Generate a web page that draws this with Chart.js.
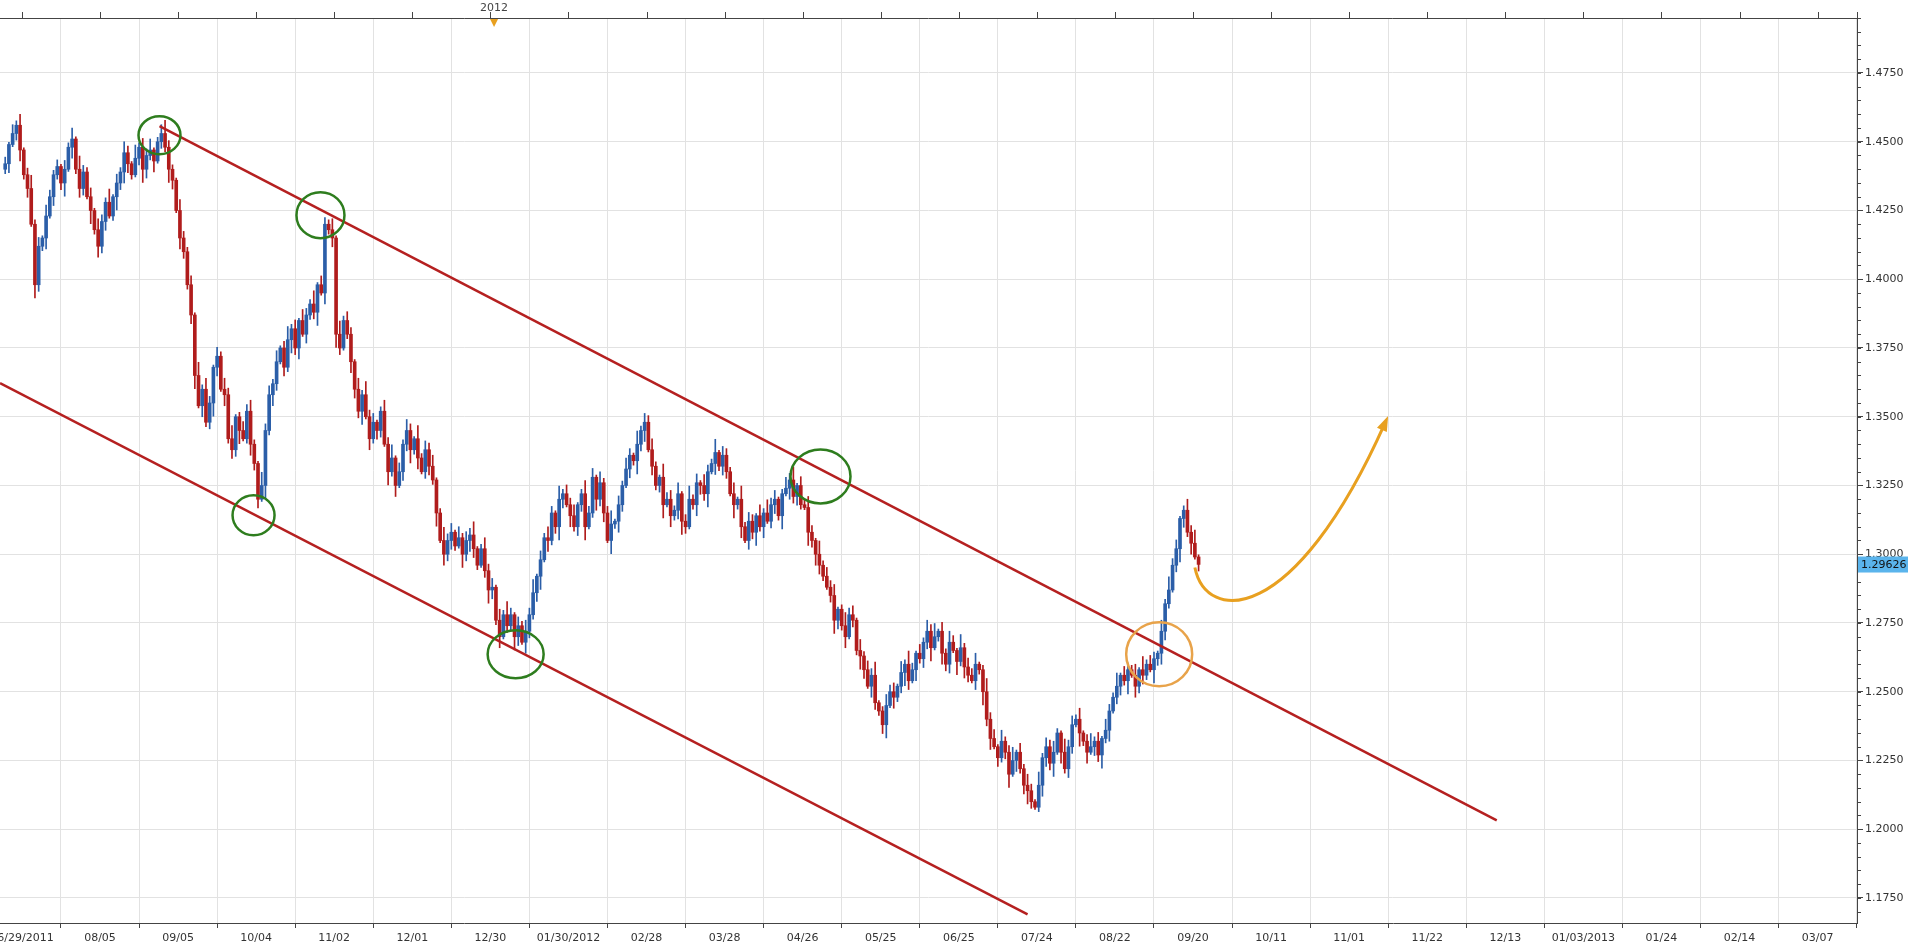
<!DOCTYPE html>
<html><head><meta charset="utf-8">
<script src="https://cdn.jsdelivr.net/npm/chart.js@4/dist/chart.umd.min.js"></script>
<style>html,body{margin:0;padding:0;background:#fff;overflow:hidden}canvas{display:block}</style>
</head><body><canvas id="c" width="1914" height="950"></canvas>
<script>
// ---- DATA ----
const firstIndex = -4.5;         // trading-day index of first candle (0 = 06/29/2011)
const firstOpen = 1.4400;
const closes = [
1.4420,1.4490,1.4530,1.4560,1.4470,1.4380,1.4330,1.4200,1.3980,1.4120,
1.4150,1.4230,1.4300,1.4380,1.4410,1.4350,1.4400,1.4480,1.4510,1.4400,
1.4330,1.4390,1.4300,1.4250,1.4180,1.4120,1.4210,1.4280,1.4230,1.4300,
1.4350,1.4390,1.4460,1.4420,1.4380,1.4440,1.4480,1.4400,1.4450,1.4470,
1.4430,1.4500,1.4530,1.4480,1.4400,1.4360,1.4250,1.4150,1.4100,1.3980,
1.3870,1.3650,1.3540,1.3600,1.3480,1.3550,1.3680,1.3720,1.3600,1.3580,
1.3420,1.3380,1.3500,1.3450,1.3420,1.3520,1.3400,1.3330,1.3200,1.3250,
1.3450,1.3580,1.3620,1.3700,1.3750,1.3680,1.3780,1.3820,1.3750,1.3850,
1.3800,1.3870,1.3910,1.3880,1.3980,1.3950,1.4200,1.4180,1.4150,1.3800,
1.3750,1.3850,1.3800,1.3700,1.3600,1.3520,1.3580,1.3500,1.3420,1.3480,
1.3450,1.3520,1.3400,1.3300,1.3350,1.3250,1.3300,1.3400,1.3450,1.3380,
1.3420,1.3350,1.3300,1.3380,1.3320,1.3270,1.3150,1.3050,1.3000,1.3050,
1.3080,1.3030,1.3060,1.3000,1.3050,1.3070,1.3020,1.2960,1.3020,1.2940,
1.2870,1.2880,1.2760,1.2700,1.2780,1.2740,1.2780,1.2700,1.2740,1.2680,
1.2720,1.2780,1.2860,1.2920,1.2980,1.3060,1.3050,1.3150,1.3100,1.3200,
1.3220,1.3180,1.3140,1.3100,1.3180,1.3220,1.3100,1.3150,1.3280,1.3200,
1.3260,1.3150,1.3050,1.3110,1.3120,1.3180,1.3250,1.3310,1.3360,1.3340,
1.3400,1.3450,1.3480,1.3380,1.3320,1.3250,1.3280,1.3180,1.3200,1.3140,
1.3160,1.3220,1.3120,1.3100,1.3200,1.3180,1.3260,1.3250,1.3220,1.3300,
1.3330,1.3370,1.3320,1.3360,1.3300,1.3220,1.3180,1.3200,1.3100,1.3050,
1.3120,1.3080,1.3140,1.3100,1.3150,1.3120,1.3180,1.3200,1.3140,1.3220,
1.3240,1.3270,1.3210,1.3250,1.3180,1.3170,1.3080,1.3050,1.3000,1.2960,
1.2920,1.2880,1.2850,1.2760,1.2800,1.2740,1.2700,1.2780,1.2760,1.2650,
1.2630,1.2580,1.2520,1.2560,1.2460,1.2430,1.2380,1.2450,1.2500,1.2480,
1.2520,1.2570,1.2600,1.2540,1.2580,1.2640,1.2620,1.2680,1.2720,1.2660,
1.2700,1.2720,1.2640,1.2600,1.2680,1.2650,1.2610,1.2660,1.2590,1.2560,
1.2540,1.2600,1.2580,1.2500,1.2400,1.2330,1.2300,1.2260,1.2320,1.2280,
1.2200,1.2250,1.2280,1.2220,1.2160,1.2140,1.2100,1.2080,1.2160,1.2260,
1.2300,1.2240,1.2280,1.2350,1.2280,1.2220,1.2300,1.2380,1.2400,1.2350,
1.2320,1.2280,1.2300,1.2320,1.2270,1.2330,1.2360,1.2430,1.2480,1.2520,
1.2560,1.2540,1.2580,1.2560,1.2520,1.2580,1.2560,1.2600,1.2580,1.2620,
1.2640,1.2720,1.2820,1.2870,1.2960,1.3020,1.3130,1.3160,1.3080,1.3040,
1.2990,1.2963];
// wick lengths above / below the body, in units of 0.0008
const wickUp = "3142513624153231425163241532614253162435124632153241625314253612435216342513624153261432516243152634125361425316243512634152436125341526314253614253162435126341523614253162435216342513624153261432516243152634125361425316243512634152436125341526314253614253162435126341523614253162435216342513624153261432516243152634125361425316".split("").map(Number);
const wickDn = "2413524163251423615243162534126354213642513264153246152364152436125341625314263514236152463125436152431625143625134261534216354213642513264153246152364152436125341625314263514236152463125436152431625143625134261534216354213642513264153246152364152436125341625314263514236152463125436152431625143625134261534216354213642513264153".split("").map(Number);
const xTickLabels = ["06/29/2011","08/05","09/05","10/04","11/02","12/01","12/30","01/30/2012","02/28","03/28","04/26","05/25","06/25","07/24","08/22","09/20","10/11","11/01","11/22","12/13","01/03/2013","01/24","02/14","03/07"];
const xTickStep = 21;
const yTicks = [1.175,1.2,1.225,1.25,1.275,1.3,1.325,1.35,1.375,1.4,1.425,1.45,1.475];
const yMinorStep = 0.005;
const lastPrice = 1.29626;
const yearMarks = [{i:127, label:"2012"}];
const upperChannel = [{x:37,y:1.4557},{x:396.7,y:1.2032}];
const lowerChannel = [{x:-5.9,y:1.3622},{x:270.5,y:1.1690}];
const greenCircles = [{x:37,y:1.4524,rx:21,ry:19},{x:80.3,y:1.4233,rx:24,ry:23},{x:62.3,y:1.3142,rx:21,ry:20},{x:132.8,y:1.2636,rx:28,ry:24},{x:214.8,y:1.3283,rx:30,ry:27}];
const orangeCircles = [{x:305.9,y:1.2636,rx:33,ry:32}];
const arrowPath = [{x:315.5,y:1.2952},{x:318.5,y:1.2750},{x:342,y:1.2730},{x:366.6,y:1.3476}];

// ---- build ----
const UP='#2b5ea8', DN='#b01c1c';
const wicks=[], bodies=[], colors=[];
let prev=firstOpen;
closes.forEach((c,k)=>{
  const o=prev, x=firstIndex+k;
  const hi=Math.max(o,c)+(wickUp[k]||1)*0.0008, lo=Math.min(o,c)-(wickDn[k]||1)*0.0008;
  wicks.push({x, y:[lo,hi]});
  bodies.push({x, y:[Math.min(o,c), Math.max(o,c)+ (Math.abs(o-c)<0.0004?0.0004:0)]});
  colors.push(c>=o?UP:DN);
  prev=c;
});
const xTicks = xTickLabels.map((l,k)=>({value:k*xTickStep,label:l}));

const overlay={id:'overlay',
 afterDatasetsDraw(ch){
  const {ctx,chartArea:a,scales:{x,y}}=ch;
  ctx.save();
  ctx.lineWidth=2.5;
  const ell=(arr,col)=>arr.forEach(e=>{ctx.strokeStyle=col;ctx.beginPath();ctx.ellipse(x.getPixelForValue(e.x),y.getPixelForValue(e.y),e.rx,e.ry,0,0,Math.PI*2);ctx.stroke();});
  ell(greenCircles,'#2e7d1e'); ell(orangeCircles,'#e8a34a');
  const P=arrowPath.map(p=>[x.getPixelForValue(p.x),y.getPixelForValue(p.y)]);
  ctx.strokeStyle='#e8a020';ctx.lineWidth=3;ctx.beginPath();ctx.moveTo(...P[0]);ctx.bezierCurveTo(...P[1],...P[2],...P[3]);ctx.stroke();
  const ang=Math.atan2(P[3][1]-P[2][1],P[3][0]-P[2][0]);
  ctx.fillStyle='#e8a020';ctx.beginPath();ctx.moveTo(P[3][0]+8*Math.cos(ang),P[3][1]+8*Math.sin(ang));
  ctx.lineTo(P[3][0]+9*Math.cos(ang+2.5),P[3][1]+9*Math.sin(ang+2.5));ctx.lineTo(P[3][0]+9*Math.cos(ang-2.5),P[3][1]+9*Math.sin(ang-2.5));ctx.closePath();ctx.fill();
  ctx.strokeStyle='#444';ctx.lineWidth=1;ctx.beginPath();ctx.moveTo(a.left,a.top+0.5);ctx.lineTo(a.right,a.top+0.5);ctx.stroke();
  xTicks.forEach(t=>{const px=Math.round(x.getPixelForValue(t.value))+0.5;ctx.beginPath();ctx.moveTo(px,a.top-6);ctx.lineTo(px,a.top);ctx.stroke();});
  ctx.beginPath();ctx.moveTo(a.right+0.5,a.top-6);ctx.lineTo(a.right+0.5,a.bottom);ctx.stroke();
  for(let v=y.min-(y.min%yMinorStep);v<=y.max;v+=yMinorStep){const py=Math.round(y.getPixelForValue(v))+0.5;if(py<a.top||py>a.bottom)continue;ctx.beginPath();ctx.moveTo(a.right,py);ctx.lineTo(a.right+4,py);ctx.stroke();}
  yearMarks.forEach(m=>{const px=x.getPixelForValue(m.i);
    ctx.fillStyle='#444';ctx.font='11px "DejaVu Sans", sans-serif';ctx.textAlign='center';ctx.textBaseline='bottom';ctx.fillText(m.label,px,a.top-4);
    ctx.fillStyle='#e8a020';ctx.beginPath();ctx.moveTo(px-4,a.top+1);ctx.lineTo(px+4,a.top+1);ctx.lineTo(px,a.top+9);ctx.closePath();ctx.fill();});
  const py=y.getPixelForValue(lastPrice);
  ctx.fillStyle='#5ab4ec';ctx.fillRect(a.right+1,py-8,50,16);
  ctx.fillStyle='#111';ctx.font='11px "DejaVu Sans", sans-serif';ctx.textAlign='left';ctx.textBaseline='middle';ctx.fillText(lastPrice.toFixed(5),a.right+4,py+0.5);
  ctx.restore();
 }};

new Chart(document.getElementById('c'),{
 type:'bar',
 data:{datasets:[
  {type:'line',data:upperChannel,borderColor:'#b52020',borderWidth:2.5,pointRadius:0,order:0},
  {type:'line',data:lowerChannel,borderColor:'#b52020',borderWidth:2.5,pointRadius:0,order:0},
  {data:wicks,backgroundColor:colors,barThickness:1,grouped:false,order:2},
  {data:bodies,backgroundColor:colors,barThickness:3,grouped:false,order:1}
 ]},
 options:{responsive:false,animation:false,devicePixelRatio:1,
  layout:{padding:{top:18,left:0,right:0,bottom:0}},
  plugins:{legend:{display:false},tooltip:{enabled:false}},
  scales:{
   x:{type:'linear',min:-5.9,max:493.6,offset:false,
     afterBuildTicks:s=>{s.ticks=xTicks.map(t=>({value:t.value}));},
     afterFit:s=>{s.paddingLeft=0;s.paddingRight=0;s.height=27;},
     ticks:{autoSkip:false,maxRotation:0,color:'#333',font:{size:11,family:'DejaVu Sans'},padding:4,
       callback:(v)=>{const t=xTicks.find(t=>t.value===v);return t?t.label:'';}},
     grid:{color:'#e2e2e2',tickLength:5,drawTicks:true,tickColor:'#444'},border:{color:'#444'}},
   y:{position:'right',min:1.1659,max:1.4950,
     afterBuildTicks:s=>{s.ticks=yTicks.map(v=>({value:v}));},
     afterFit:s=>{s.width=57;},
     ticks:{color:'#333',font:{size:11,family:'DejaVu Sans'},padding:2,callback:v=>v.toFixed(4)},
     grid:{color:'#e2e2e2',drawTicks:true,tickLength:6,tickColor:'#444'},border:{color:'#444'}}
  }},
 plugins:[overlay]
});
</script></body></html>
